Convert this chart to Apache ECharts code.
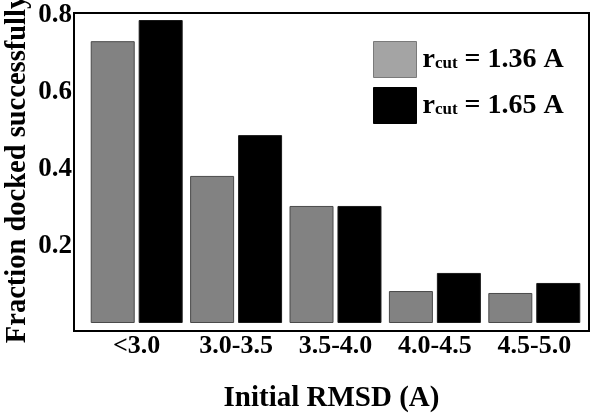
<!DOCTYPE html>
<html><head><meta charset="utf-8">
<script src="https://cdn.jsdelivr.net/npm/echarts@6/dist/echarts.min.js"></script>
<style>html,body{margin:0;padding:0;background:#fff}#c{width:601px;height:415px}</style>
</head><body><div id="c"></div>
<script>
const categories = ['<3.0', '3.0-3.5', '3.5-4.0', '4.0-4.5', '4.5-5.0'];
const seriesNames = ['rcut = 1.36 A', 'rcut = 1.65 A'];
const values136 = [0.732, 0.382, 0.304, 0.083, 0.078];
const values165 = [0.787, 0.488, 0.304, 0.130, 0.104];
const yTicks = [0.2, 0.4, 0.6, 0.8];

const serif = 'Liberation Serif';
const chart = echarts.init(document.getElementById('c'), null, {renderer: 'canvas'});
chart.setOption({
  animation: false,
  backgroundColor: '#fff',
  grid: [
    {left: 74, top: 13, width: 515, height: 318, show: true, borderColor: '#000', borderWidth: 2,
     backgroundColor: 'transparent', containLabel: false, outerBoundsMode: 'none'},
    {left: 87, top: 15, width: 497, height: 308, containLabel: false, outerBoundsMode: 'none'}
  ],
  xAxis: [
    {gridIndex: 0, type: 'value', show: false, min: 0, max: 1},
    {gridIndex: 1, type: 'category', data: categories,
     axisLine: {show: false}, axisTick: {show: false},
     axisLabel: {interval: 0, hideOverlap: false, margin: 10, color: '#000', fontFamily: serif, fontWeight: 'bold', fontSize: 26},
     name: 'Initial RMSD (A)', nameLocation: 'middle', nameGap: 61, nameMoveOverlap: false,
     nameTextStyle: {color: '#000', fontFamily: serif, fontWeight: 'bold', fontSize: 29, padding: [0, 8, 0, 0]}}
  ],
  yAxis: [
    {gridIndex: 0, type: 'value', show: false, min: 0, max: 1},
    {gridIndex: 1, type: 'value', min: 0, max: 0.8, interval: 0.2,
     splitLine: {show: false}, axisLine: {show: false}, axisTick: {show: false},
     axisLabel: {margin: 15, color: '#000', fontFamily: serif, fontWeight: 'bold', fontSize: 27,
       customValues: yTicks, formatter: v => v.toFixed(1)},
     name: 'Fraction docked successfully', nameLocation: 'middle', nameGap: 55, nameMoveOverlap: false,
     nameTextStyle: {color: '#000', fontFamily: serif, fontWeight: 'bold', fontSize: 28.5}}
  ],
  legend: {
    orient: 'vertical', left: 368, top: 36, itemWidth: 43, itemHeight: 36, itemGap: 9,
    icon: 'rect',
    data: [
      {name: seriesNames[0], itemStyle: {color: '#a4a4a4', borderColor: '#7a7a7a', borderWidth: 1}},
      {name: seriesNames[1], itemStyle: {color: '#000', borderColor: '#000', borderWidth: 1}}
    ],
    formatter: n => '{r|r}{s|cut}{t| ' + n.split(' ').slice(1).join(' ') + '}',
    textStyle: {
      rich: {
        r: {fontFamily: serif, fontWeight: 'bold', fontSize: 28, color: '#000', padding: [0, 0, 0, 1]},
        s: {fontFamily: serif, fontWeight: 'bold', fontSize: 17, color: '#000', padding: [9, 0, 0, 0]},
        t: {fontFamily: serif, fontWeight: 'bold', fontSize: 28, color: '#000'}
      }
    }
  },
  series: [
    {name: seriesNames[0], type: 'bar', xAxisIndex: 1, yAxisIndex: 1, data: values136,
     barWidth: 44, barGap: '9%',
     itemStyle: {color: '#828282', borderColor: '#4a4a4a', borderWidth: 1}},
    {name: seriesNames[1], type: 'bar', xAxisIndex: 1, yAxisIndex: 1, data: values165,
     barWidth: 44, barGap: '9%',
     itemStyle: {color: '#000', borderColor: '#1a1a1a', borderWidth: 1}}
  ]
});
</script></body></html>
